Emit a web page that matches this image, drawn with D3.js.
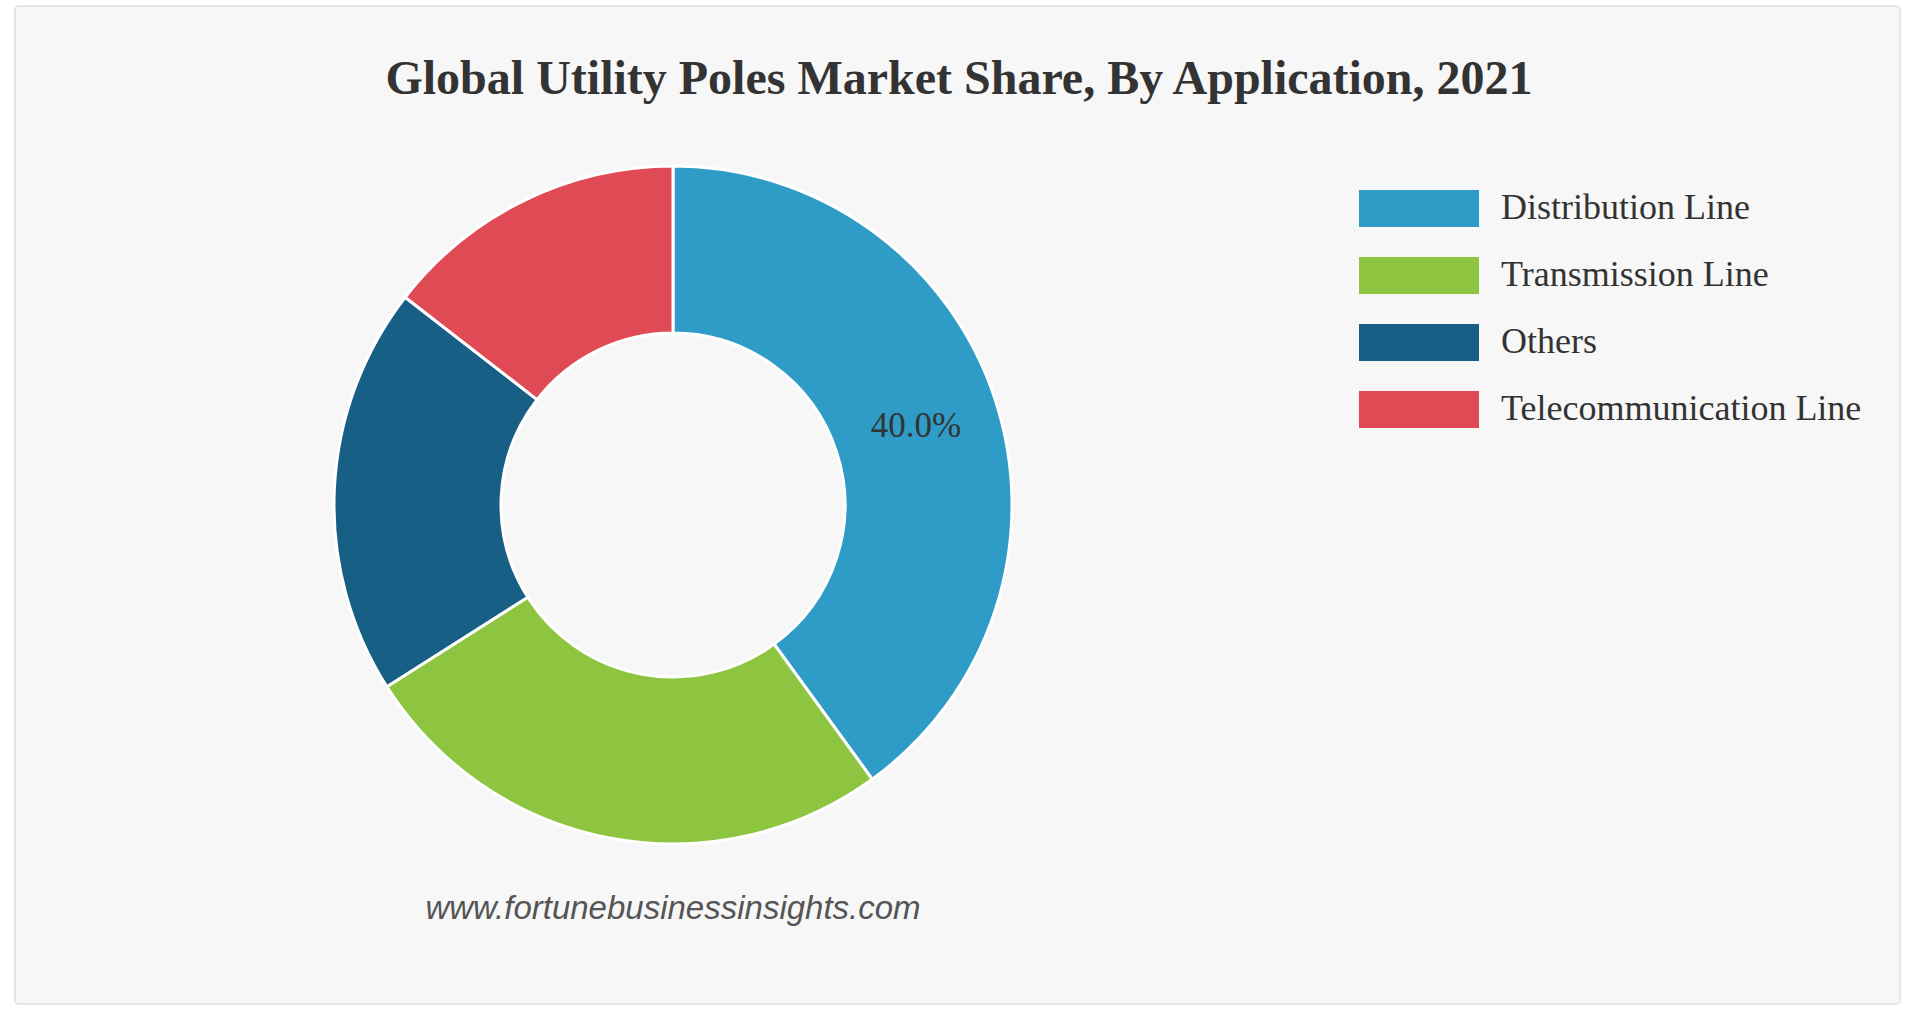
<!DOCTYPE html>
<html><head><meta charset="utf-8">
<script src="https://cdn.jsdelivr.net/npm/d3@7"></script>
<style>body{margin:0;background:#fff;}svg{display:block;}</style>
</head><body>
<script>
const categories = ["Distribution Line","Transmission Line","Others","Telecommunication Line"];
const values = [40.0, 26.0, 19.5, 14.5];
const colors = ["#2e9cc6","#8dc540","#185f85","#e04a55"];

const W=1920,H=1015;
const svg=d3.select("body").append("svg").attr("width",W).attr("height",H);
svg.append("rect").attr("x",15).attr("y",6).attr("width",1885).attr("height",998)
  .attr("fill","#f7f7f7").attr("stroke","#e6e6e6").attr("stroke-width",2).attr("rx",4);
svg.append("text").attr("x",959).attr("y",94).attr("text-anchor","middle")
  .attr("font-family","Liberation Serif").attr("font-weight","bold").attr("font-size",48)
  .attr("fill","#333").text("Global Utility Poles Market Share, By Application, 2021");

const cx=673, cy=505, R=339, r=172;
const pie=d3.pie().sort(null).value(d=>d);
const arc=d3.arc().innerRadius(r).outerRadius(R);
const g=svg.append("g").attr("transform",`translate(${cx},${cy})`);
const arcs=pie(values);
g.selectAll("path").data(arcs).join("path").attr("d",arc)
  .attr("fill",(d,i)=>colors[i]).attr("stroke","#fff").attr("stroke-width",3);
const la=arcs[0], mid=(la.startAngle+la.endAngle)/2, lr=(r+R)/2;
g.append("text").attr("x",Math.sin(mid)*lr).attr("y",-Math.cos(mid)*lr).attr("dy","0.3em")
  .attr("text-anchor","middle").attr("font-family","Liberation Serif").attr("font-size",35)
  .attr("fill","#333").text(values[0].toFixed(1)+"%");

const lg=svg.append("g");
categories.forEach((c,i)=>{
  const y=208+i*67;
  lg.append("rect").attr("x",1359).attr("y",y-18).attr("width",120).attr("height",37).attr("fill",colors[i]);
  lg.append("text").attr("x",1501).attr("y",y).attr("dy","0.3em").attr("font-family","Liberation Serif")
    .attr("font-size",36).attr("fill","#333").text(c);
});
svg.append("text").attr("x",673).attr("y",919).attr("text-anchor","middle")
  .attr("font-family","Liberation Sans").attr("font-style","italic").attr("font-size",33)
  .attr("fill","#555").text("www.fortunebusinessinsights.com");
</script>
</body></html>
